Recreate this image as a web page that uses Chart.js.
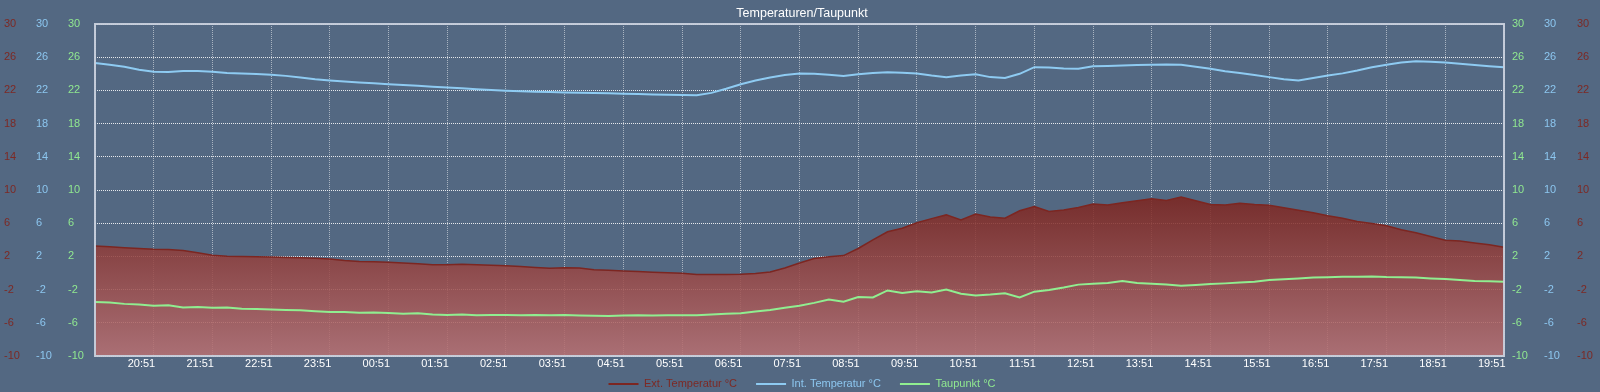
<!DOCTYPE html>
<html><head><meta charset="utf-8">
<script src="https://cdn.jsdelivr.net/npm/chart.js@4.4.1/dist/chart.umd.min.js"></script>
<style>html,body{margin:0;padding:0;background:#536882;overflow:hidden}canvas{display:block}</style>
</head><body>
<canvas id="c" width="1600" height="392"></canvas>
<script>
const timeLabels = [
"19:51","20:06","20:21","20:36","20:51","21:06","21:21","21:36",
"21:51","22:06","22:21","22:36","22:51","23:06","23:21","23:36",
"23:51","00:06","00:21","00:36","00:51","01:06","01:21","01:36",
"01:51","02:06","02:21","02:36","02:51","03:06","03:21","03:36",
"03:51","04:06","04:21","04:36","04:51","05:06","05:21","05:36",
"05:51","06:06","06:21","06:36","06:51","07:06","07:21","07:36",
"07:51","08:06","08:21","08:36","08:51","09:06","09:21","09:36",
"09:51","10:06","10:21","10:36","10:51","11:06","11:21","11:36",
"11:51","12:06","12:21","12:36","12:51","13:06","13:21","13:36",
"13:51","14:06","14:21","14:36","14:51","15:06","15:21","15:36",
"15:51","16:06","16:21","16:36","16:51","17:06","17:21","17:36",
"17:51","18:06","18:21","18:36","18:51","19:06","19:21","19:36",
"19:51"];

const extTemp = [
3.25,3.15,3.05,2.95,2.85,2.82,2.72,2.45,
2.15,2.02,2.0,1.97,1.93,1.88,1.83,1.77,
1.68,1.52,1.40,1.36,1.30,1.2,1.1,1.0,
1.0,1.06,1.0,0.94,0.88,0.78,0.66,0.57,
0.62,0.6,0.4,0.32,0.25,0.18,0.1,0.03,
-0.04,-0.17,-0.18,-0.17,-0.16,-0.05,0.12,0.6,
1.2,1.75,1.95,2.1,2.95,4.0,4.97,5.4,
6.05,6.55,7.0,6.4,7.1,6.75,6.6,7.5,
8.0,7.4,7.6,7.9,8.3,8.2,8.45,8.7,
8.95,8.75,9.15,8.7,8.25,8.2,8.4,8.25,
8.15,7.85,7.55,7.25,6.9,6.6,6.2,5.95,
5.7,5.2,4.85,4.4,3.95,3.85,3.62,3.4,
3.1];

const intTemp = [
25.3,25.1,24.85,24.5,24.25,24.22,24.35,24.35,
24.25,24.1,24.03,23.97,23.9,23.75,23.55,23.35,
23.2,23.08,22.95,22.85,22.74,22.65,22.55,22.43,
22.34,22.25,22.15,22.05,21.96,21.9,21.85,21.8,
21.76,21.73,21.7,21.66,21.6,21.56,21.52,21.48,
21.45,21.42,21.7,22.2,22.75,23.2,23.55,23.85,
24.05,24.0,23.9,23.75,23.95,24.1,24.2,24.12,
24.05,23.8,23.6,23.8,23.95,23.6,23.5,24.0,
24.8,24.75,24.65,24.6,24.9,24.95,25.0,25.06,
25.1,25.12,25.1,24.85,24.6,24.3,24.1,23.85,
23.6,23.35,23.2,23.5,23.8,24.05,24.4,24.8,
25.1,25.35,25.52,25.45,25.35,25.2,25.05,24.9,
24.78];

const dewPoint = [
-3.5,-3.55,-3.72,-3.8,-3.95,-3.9,-4.15,-4.1,
-4.2,-4.15,-4.3,-4.35,-4.4,-4.45,-4.5,-4.6,
-4.7,-4.7,-4.78,-4.75,-4.82,-4.9,-4.85,-5.0,
-5.05,-5.0,-5.08,-5.05,-5.06,-5.1,-5.05,-5.08,
-5.06,-5.12,-5.15,-5.18,-5.12,-5.1,-5.12,-5.08,
-5.1,-5.08,-5.0,-4.92,-4.85,-4.65,-4.45,-4.2,
-3.95,-3.6,-3.2,-3.45,-2.9,-2.95,-2.1,-2.4,
-2.2,-2.35,-2.0,-2.5,-2.7,-2.6,-2.45,-2.95,
-2.25,-2.05,-1.75,-1.4,-1.3,-1.2,-0.95,-1.2,
-1.3,-1.4,-1.55,-1.45,-1.33,-1.25,-1.15,-1.05,
-0.85,-0.75,-0.65,-0.55,-0.5,-0.45,-0.45,-0.42,
-0.48,-0.5,-0.55,-0.65,-0.72,-0.85,-0.95,-1.0,
-1.05];

const seriesNames = ["Ext. Temperatur °C","Int. Temperatur °C","Taupunkt °C"];
const seriesColors = ["#7c2621","#8ecbf2","#90ee90"];
const axisTextColors = ["#7d2924","#8cc6ef","#90e890"];
const yMin = -10, yMax = 30, yStep = 4;

const BG = "rgb(83,104,130)";
Chart.defaults.font.family = "'Helvetica Neue', Helvetica, Arial, 'Liberation Sans', sans-serif";

const bgPlugin = { id:'bg', beforeDraw(chart){ const c=chart.ctx; c.save(); c.fillStyle=BG; c.fillRect(0,0,chart.width,chart.height); c.restore(); } };
const framePlugin = { id:'frame', afterDatasetsDraw(chart){ const c=chart.ctx, a=chart.chartArea; c.save(); c.strokeStyle='rgba(200,208,220,0.95)'; c.lineWidth=2; c.strokeRect(a.left, a.top, a.right-a.left, a.bottom-a.top); c.restore(); } };
// raise the legend row's start so its text sits between the time labels and the bottom edge
const legendShift = { id:'legendShift', afterLayout(chart){ const lg = chart.legend; if(!lg) return; lg.top -= 10.5; lg.height = lg.bottom - lg.top; } };

function yAxis(pos, color, w, weight, showGrid){
  return {
    type:'linear', position:pos, min:yMin, max:yMax, weight:weight,
    ticks:{ stepSize:yStep, color:color, font:{size:11}, padding:8, crossAlign: pos==='left' ? 'far' : 'near' },
    grid:{ display:showGrid, drawTicks:false, color:'rgba(255,255,255,0.85)', lineWidth:1 },
    border:{ display:false, dash:[1,1] },
    afterFit: s => { s.width = w; }
  };
}

new Chart(document.getElementById('c'), {
  type:'line',
  data:{
    labels: timeLabels,
    datasets:[
      { label:seriesNames[0], data:extTemp, yAxisID:'yRL', borderColor:seriesColors[0], borderWidth:1.5, pointRadius:0, fill:'start', order:10,
        backgroundColor: (ctx) => {
          const ch = ctx.chart, a = ch.chartArea; if(!a) return 'rgba(150,70,70,0.85)';
          const top = ch.scales.yRL.getPixelForValue(Math.max(...extTemp));
          const g = ch.ctx.createLinearGradient(0, top, 0, a.bottom);
          g.addColorStop(0, 'rgba(124,36,30,0.86)');
          g.addColorStop(1, 'rgba(184,112,114,0.86)');
          return g;
        } },
      { label:seriesNames[1], data:intTemp, yAxisID:'yBL', borderColor:seriesColors[1], borderWidth:2, pointRadius:0, fill:false, order:2 },
      { label:seriesNames[2], data:dewPoint, yAxisID:'yGL', borderColor:seriesColors[2], borderWidth:2, pointRadius:0, fill:false, order:1 }
    ]
  },
  options:{
    responsive:false, animation:false, devicePixelRatio:1,
    layout:{ padding:{left:4, right:0, top:0, bottom:0} },
    plugins:{
      title:{ display:true, text:'Temperaturen/Taupunkt', color:'#ffffff', font:{size:12.5, weight:'normal'}, padding:{top:6, bottom:3} },
      tooltip:{ enabled:false },
      legend:{
        position:'bottom', maxHeight:22,
        labels:{
          usePointStyle:true, pointStyleWidth:30, boxHeight:11, padding:19, font:{size:11},
          generateLabels: (chart) => chart.data.datasets.map((ds,i) => ({
            text: ds.label, fontColor: axisTextColors[i], fillStyle: seriesColors[i], strokeStyle: seriesColors[i],
            lineWidth: 2, pointStyle:'line', hidden:false, datasetIndex:i
          }))
        }
      }
    },
    scales:{
      x:{
        type:'category',
        ticks:{ autoSkip:false, maxRotation:0, minRotation:0, align:'end', labelOffset:1.5, color:'#ffffff', font:{size:11}, padding:1,
          callback: function(v, i){ return (i>0 && i%4===0) ? this.getLabelForValue(v) : ''; } },
        grid:{ drawTicks:false, lineWidth:1, color: (c) => (c.index % 4 === 0 ? 'rgba(255,255,255,0.5)' : 'rgba(0,0,0,0)') },
        border:{ display:false, dash:[1,1] },
        afterFit: s => { s.height = 14; }
      },
      yGL: yAxis('left', axisTextColors[2], 27, 0, true),
      yBL: yAxis('left', axisTextColors[1], 32, 1, false),
      yRL: yAxis('left', axisTextColors[0], 32, 2, false),
      yGR: yAxis('right', axisTextColors[2], 32, 0, false),
      yBR: yAxis('right', axisTextColors[1], 33, 1, false),
      yRR: yAxis('right', axisTextColors[0], 31, 2, false)
    }
  },
  plugins:[bgPlugin, framePlugin, legendShift]
});
</script>
</body></html>
